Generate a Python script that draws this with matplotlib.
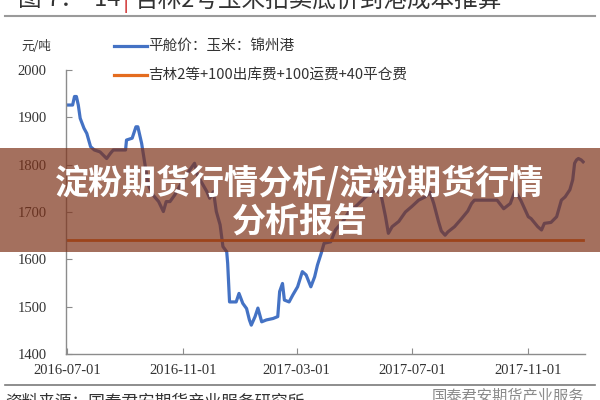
import matplotlib
matplotlib.use("Agg")
import matplotlib.pyplot as plt
import matplotlib.dates as mdates
import pandas as pd
from matplotlib.patches import Rectangle
from matplotlib.lines import Line2D

plt.rcParams['font.family'] = ['Noto Sans CJK SC', 'DejaVu Sans']

dates = ["2016-07-01","2016-07-07","2016-07-09","2016-07-11","2016-07-13","2016-07-15","2016-07-19","2016-07-22","2016-07-26","2016-07-30",
         "2016-08-05","2016-08-12","2016-08-16","2016-08-19","2016-09-01","2016-09-02","2016-09-08","2016-09-12","2016-09-14","2016-09-18",
         "2016-09-25","2016-09-30","2016-10-06","2016-10-11","2016-10-14","2016-10-18","2016-10-23","2016-11-03","2016-11-13","2016-11-16",
         "2016-11-26","2016-11-29","2016-12-03","2016-12-06","2016-12-10","2016-12-13","2016-12-17","2016-12-18","2016-12-20","2016-12-27",
         "2016-12-30","2017-01-03","2017-01-07","2017-01-10","2017-01-12","2017-01-16","2017-01-19","2017-01-23","2017-01-28","2017-02-04",
         "2017-02-09","2017-02-11","2017-02-14","2017-02-16","2017-02-21","2017-02-25","2017-03-02","2017-03-07","2017-03-11","2017-03-16",
         "2017-03-20","2017-03-23","2017-03-27","2017-03-30","2017-04-06","2017-04-11","2017-04-20","2017-04-25","2017-05-02","2017-05-13",
         "2017-05-23","2017-05-29","2017-06-03","2017-06-06","2017-06-10","2017-06-17","2017-06-24","2017-07-01","2017-07-08","2017-07-15",
         "2017-07-20","2017-07-24","2017-07-29","2017-08-01","2017-08-05","2017-08-08","2017-08-15","2017-08-22","2017-08-29","2017-09-02",
         "2017-09-05","2017-09-29","2017-10-06","2017-10-13","2017-10-18","2017-10-24","2017-11-01","2017-11-04","2017-11-11","2017-11-15",
         "2017-11-18","2017-11-25","2017-12-01","2017-12-06","2017-12-10","2017-12-15","2017-12-18","2017-12-20","2017-12-22","2017-12-24",
         "2017-12-27","2017-12-29"]
jinzhou_price = [1926,1926,1944,1944,1926,1898,1877,1866,1838,1831,
                 1827,1813,1824,1831,1831,1852,1856,1880,1880,1845,
                 1757,1736,1722,1701,1722,1722,1736,1775,1803,1778,
                 1743,1729,1743,1701,1673,1627,1616,1592,1510,1510,
                 1528,1507,1496,1472,1461,1479,1497,1468,1472,1475,
                 1479,1532,1549,1514,1510,1525,1542,1574,1567,1542,
                 1563,1588,1613,1634,1637,1662,1683,1700,1711,1732,
                 1747,1739,1690,1655,1669,1680,1700,1712,1725,1732,
                 1742,1718,1680,1660,1651,1658,1669,1685,1702,1718,
                 1725,1725,1707,1718,1745,1725,1690,1686,1669,1662,
                 1676,1678,1690,1725,1732,1747,1768,1803,1810,1813,
                 1810,1806]
cost_value = 1640

series_names = ["平舱价：玉米：锦州港", "吉林2等+100出库费+100运费+40平仓费"]
yticks = [1400, 1500, 1600, 1700, 1800, 1900, 2000]
xtick_labels = ["2016-07-01", "2016-11-01", "2017-03-01", "2017-07-01", "2017-11-01"]

x = pd.to_datetime(dates)
xt = pd.to_datetime(xtick_labels)

fig = plt.figure(figsize=(6, 4), dpi=100)
fig.patch.set_facecolor('white')
ax = fig.add_axes([0.11, 0.115, 0.865, 0.71])

ax.plot(x, jinzhou_price, color='#4472C4', lw=2.3, solid_joinstyle='round')
ax.plot([pd.Timestamp("2016-07-01"), x[-1]], [cost_value, cost_value], color='#E46C1F', lw=2.0)

ax.set_ylim(1400, 2000)
ax.set_xlim(pd.Timestamp("2016-06-30"), pd.Timestamp("2017-12-31"))
ax.set_yticks(yticks)
ax.set_xticks(xt)
ax.set_xticklabels(xtick_labels)
for s in ['top', 'right']:
    ax.spines[s].set_visible(False)
for s in ['left', 'bottom']:
    ax.spines[s].set_color('#8c8c8c')
    ax.spines[s].set_linewidth(1.0)
ax.tick_params(direction='in', length=4, color='#8c8c8c', labelsize=10.5, labelcolor='#333333')
ax.tick_params(axis='y', pad=14)
ax.tick_params(axis='x', pad=7)
for lab in ax.get_xticklabels() + ax.get_yticklabels():
    lab.set_family(['Liberation Serif', 'DejaVu Serif'])

# unit label and legend
fig.text(0.035, 0.885, "元/吨", fontsize=9, color='#333333', va='center')
leg_y = [0.885, 0.8125]
leg_colors = ['#4472C4', '#E46C1F']
for yy, c, name in zip(leg_y, leg_colors, series_names):
    fig.add_artist(Line2D([0.19, 0.245], [yy, yy], color=c, lw=2.3, transform=fig.transFigure))
    fig.text(0.247, yy, name, fontsize=10.5, color='#333333', va='center')

# cropped title at top
fig.text(0.03, 1.0, "图 7：  14", fontsize=17, color='#333333', va='center')
fig.text(0.205, 1.0, "|", fontsize=17, color='#d03030', va='center')
fig.text(0.225, 1.0, "吉林2号玉米拍卖底价到港成本推算", fontsize=17, color='#333333', va='center')
fig.add_artist(Line2D([0.008, 0.992], [0.96, 0.96], color='#9a9a9a', lw=1.5, transform=fig.transFigure))

# footer
fig.add_artist(Line2D([0.008, 0.992], [0.038, 0.038], color='#7a7a7a', lw=1.2, transform=fig.transFigure))
fig.text(0.008, -0.005, "资料来源：国泰君安期货产业服务研究所", fontsize=12, color='#333333', va='center')
fig.text(0.72, 0.01, "国泰君安期货产业服务", fontsize=11, color='#8a8a8a', va='center')

# overlay banner
fig.add_artist(Rectangle((0, 1 - 252/400), 1, (252-148)/400, transform=fig.transFigure,
                         facecolor=(126/255, 51/255, 26/255), alpha=0.7, edgecolor='none', zorder=10))
fig.text(0.5, 1 - 183/400, "淀粉期货行情分析/淀粉期货行情", fontsize=24.5, color='white',
         fontweight='bold', ha='center', va='center', zorder=11)
fig.text(0.5, 1 - 221/400, "分析报告", fontsize=24.5, color='white',
         fontweight='bold', ha='center', va='center', zorder=11)

fig.savefig("out.png", dpi=100)
